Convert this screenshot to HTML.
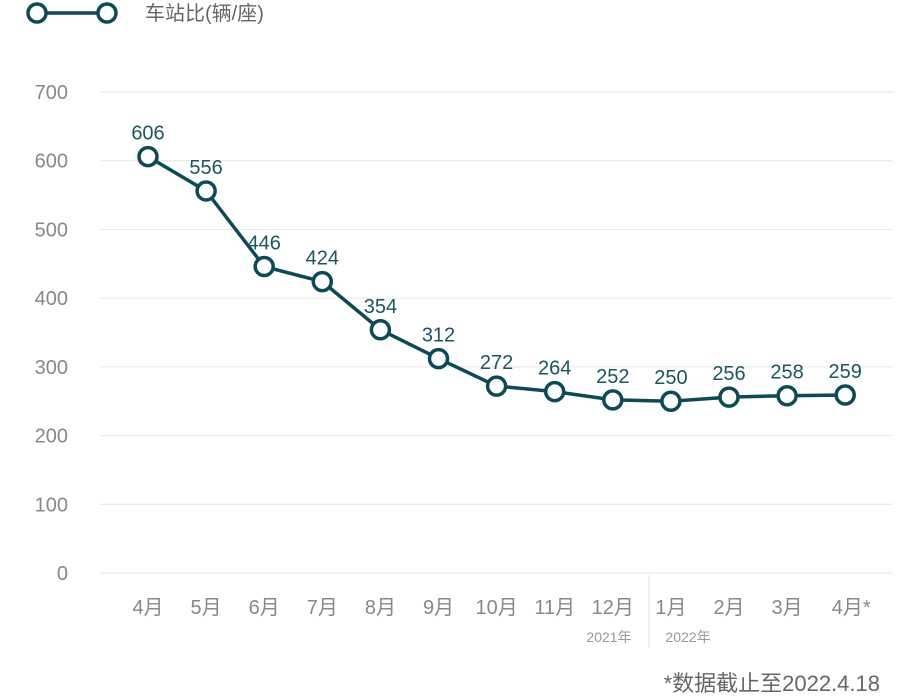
<!DOCTYPE html>
<html><head><meta charset="utf-8"><style>
body{margin:0;background:#fff;}
svg{display:block;font-family:"Liberation Sans","Noto Sans CJK SC",sans-serif;}
</style></head><body>
<svg id="chart" width="922" height="696">
<g>
<line x1="37" y1="13" x2="107" y2="13" stroke="#0e4a55" stroke-width="3.5"/>
<circle cx="37" cy="13" r="9" fill="#fff" stroke="#0e4a55" stroke-width="3.5"/>
<circle cx="107" cy="13" r="9" fill="#fff" stroke="#0e4a55" stroke-width="3.5"/>
<text x="145" y="20" font-size="20" fill="#666">车站比(辆/座)</text>
</g>
<g id="grid"></g>
<g id="yticks"></g>
<g id="xticks"></g>
<line x1="649" y1="575" x2="649" y2="648" stroke="#e2e2e2" stroke-width="1"/>
<text x="609" y="642" font-size="14" fill="#999" text-anchor="middle">2021年</text>
<text x="688" y="642" font-size="14" fill="#999" text-anchor="middle">2022年</text>
<g id="series"></g>
<text x="880" y="691" font-size="22" fill="#666" text-anchor="end">*数据截止至2022.4.18</text>
</svg>
<script>
const categories=["4月","5月","6月","7月","8月","9月","10月","11月","12月","1月","2月","3月","4月*"];
const values=[606,556,446,424,354,312,272,264,252,250,256,258,259];
const yTicks=[0,100,200,300,400,500,600,700];
const NS="http://www.w3.org/2000/svg";
const y=v=>573-v*(481/700);
const x=i=>148+i*58.1;
function mk(tag,attrs,parent,text){const e=document.createElementNS(NS,tag);for(const k in attrs)e.setAttribute(k,attrs[k]);if(text!==undefined)e.textContent=text;parent.appendChild(e);return e;}
const grid=document.getElementById('grid'),yt=document.getElementById('yticks'),xt=document.getElementById('xticks'),s=document.getElementById('series');
yTicks.forEach(t=>{
 const l=mk('line',{x1:100,x2:893,y1:y(t),y2:y(t),stroke:'#e6e6e6','stroke-width':1},grid);
 
 
 const tx=mk('text',{x:68,y:y(t)+7,'font-size':20,fill:'#888','text-anchor':'end'},yt,String(t));
 
 
});
categories.forEach((c,i)=>{
 const tx=mk('text',{x:x(i)+(c.endsWith('*')?6:0),y:614,'font-size':20,fill:'#888','text-anchor':'middle'},xt,c);
 
 
});
const path=mk('polyline',{points:values.map((v,i)=>x(i)+','+y(v)).join(' '),fill:'none',stroke:'#0e4a55','stroke-width':3.5},s);


values.forEach((v,i)=>{
 const c=mk('circle',{cx:x(i),cy:y(v),r:9,fill:'#fff',stroke:'#0e4a55','stroke-width':3.5},s);
 
 
 const t=mk('text',{x:x(i),y:y(v)-17,'font-size':20,fill:'#1d5560','text-anchor':'middle'},s,String(v));
 
 
});
</script>
</body></html>
